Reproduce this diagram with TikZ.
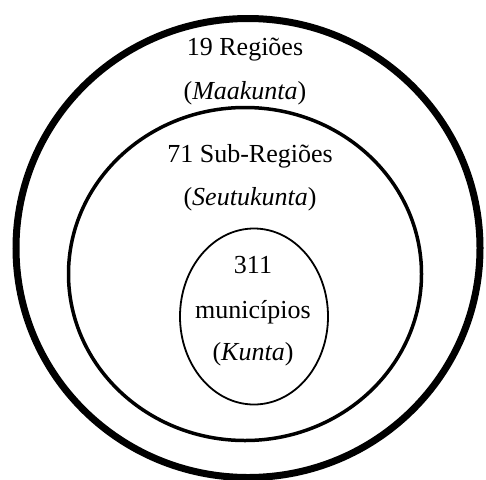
\documentclass[tikz,border=0pt]{standalone}
\usepackage{fontspec}
\setmainfont{Liberation Serif}
\usetikzlibrary{shapes.geometric}
\begin{document}
\begin{tikzpicture}[x=1pt,y=-1pt,
  ring/.style={draw=black, ellipse, inner sep=0pt},
  lbl/.style={anchor=base, inner sep=0pt, font=\fontsize{26}{30}\selectfont}]
\useasboundingbox (0,0) rectangle (486,479);
\node[ring, line width=7pt, minimum width=464pt, minimum height=459pt] (outer) at (248,248) {};
\node[ring, line width=3.5pt, minimum width=353pt, minimum height=333pt] (middle) at (245,274) {};
\node[ring, line width=1.8pt, minimum width=148pt, minimum height=176pt] (inner) at (254,316.5) {};
\node[lbl] (t1) at (245,55) {19 Regiões};
\node[lbl] (t2) at (245,99) {(\textit{Maakunta})};
\node[lbl] (t3) at (250,162) {71 Sub-Regiões};
\node[lbl] (t4) at (250,205) {(\textit{Seutukunta})};
\node[lbl] (t5) at (253,273) {311};
\node[lbl] (t6) at (253,318) {municípios};
\node[lbl] (t7) at (253,360) {(\textit{Kunta})};
\end{tikzpicture}
\end{document}
